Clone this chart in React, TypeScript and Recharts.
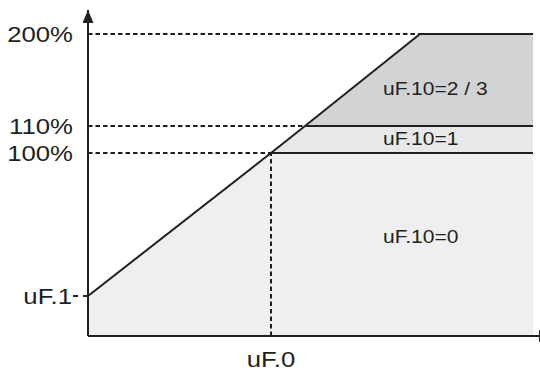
import React from "react";
import { ComposedChart, Area, Line, XAxis, YAxis, ReferenceLine, ReferenceDot } from "recharts";

// schematic diagram units (the original is not drawn to scale)
const yTicks = [40, 183, 210, 302];
const yTickLabels = ["uF.1", "100%", "110%", "200%"];
const xTicks = [183];
const xTickLabels = ["uF.0"];

const xs = [0, 183, 217, 332, 445];
const curve = [40, 183, 210, 302, 302];
const zone0Top = [40, 183, 183, 183, 183];
const zone1Top = [null, 183, 210, 210, 210];
const zone23Top = [null, null, 210, 302, 302];

const regionLabels = ["uF.10=0", "uF.10=1", "uF.10=2 / 3"];
const regionLabelX = [295, 295, 295];
const regionLabelY = [93, 191, 241];

const INK = "#231f20";
const FONT = "'Liberation Sans', Arial, sans-serif";

const data = xs.map((x, i) => ({
  x,
  curve: curve[i],
  zone0: zone0Top[i],
  zone1: zone1Top[i] == null ? null : [183, zone1Top[i]],
  zone23: zone23Top[i] == null ? null : [210, zone23Top[i]],
}));

const YTick = (props: any) => {
  const { x, y, payload } = props;
  const label = yTickLabels[yTicks.indexOf(payload.value)];
  const isStart = label === "uF.1";
  return (
    <g>
      <text
        transform={`translate(${isStart ? x - 1 : x},${y}) scale(1.17,1)`}
        textAnchor="end"
        dy={8}
        fontSize={22}
        fontFamily={FONT}
        fill={INK}
      >
        {label}
      </text>
      {isStart && (
        <line x1={x} x2={x + 15} y1={y} y2={y} stroke={INK} strokeWidth={2} strokeDasharray="5 5" />
      )}
    </g>
  );
};

const XTick = (props: any) => {
  const { x, y, payload } = props;
  const label = xTickLabels[xTicks.indexOf(payload.value)];
  return (
    <text
      transform={`translate(${x},${y}) scale(1.17,1)`}
      textAnchor="middle"
      dy={31}
      fontSize={22}
      fontFamily={FONT}
      fill={INK}
    >
      {label}
    </text>
  );
};

const RegionText = (text: string) => (props: any) => (
  <text
    transform={`translate(${props.cx},${props.cy}) scale(1.17,1)`}
    fontSize={18}
    fontFamily={FONT}
    fill={INK}
  >
    {text}
  </text>
);

export default function App() {
  return (
    <div style={{ position: "absolute", left: 0, top: 0, width: 540, height: 371, background: "#fff" }}>
      <ComposedChart width={540} height={371} data={data} margin={{ top: 10, right: 0, left: 0, bottom: 0 }}>
        <defs>
          <marker id="arrowY" markerUnits="userSpaceOnUse" markerWidth={13} markerHeight={11} refX={13} refY={5.5} orient="auto-start-reverse">
            <path d="M0,0 L13,5.5 L0,11 z" fill={INK} />
          </marker>
          <marker id="arrowX" markerUnits="userSpaceOnUse" markerWidth={13} markerHeight={12} refX={1} refY={6} orient="auto">
            <path d="M0,0 L13,6 L0,12 z" fill={INK} />
          </marker>
        </defs>
        <XAxis
          dataKey="x"
          type="number"
          domain={[0, 452]}
          ticks={xTicks}
          height={35}
          tickSize={0}
          tickMargin={0}
          tickLine={false}
          axisLine={{ stroke: INK, strokeWidth: 2, markerEnd: "url(#arrowX)" }}
          tick={<XTick />}
          allowDataOverflow
        />
        <YAxis
          type="number"
          domain={[0, 326]}
          ticks={yTicks}
          width={88}
          tickSize={0}
          tickMargin={15}
          tickLine={false}
          axisLine={{ stroke: INK, strokeWidth: 2, markerStart: "url(#arrowY)" }}
          tick={<YTick />}
          allowDataOverflow
        />
        <Area dataKey="zone0" type="linear" fill="#efefef" fillOpacity={1} stroke="none" isAnimationActive={false} />
        <Area dataKey="zone1" type="linear" fill="#e8e8e9" fillOpacity={1} stroke="none" isAnimationActive={false} />
        <Area dataKey="zone23" type="linear" fill="#d2d3d5" fillOpacity={1} stroke="none" isAnimationActive={false} />

        <ReferenceLine segment={[{ x: 0, y: 302 }, { x: 332, y: 302 }]} stroke={INK} strokeWidth={2} strokeDasharray="4.5 3" />
        <ReferenceLine segment={[{ x: 0, y: 210 }, { x: 217, y: 210 }]} stroke={INK} strokeWidth={2} strokeDasharray="4.5 3" />
        <ReferenceLine segment={[{ x: 0, y: 183 }, { x: 183, y: 183 }]} stroke={INK} strokeWidth={2} strokeDasharray="4.5 3" />
        <ReferenceLine segment={[{ x: 183, y: 0 }, { x: 183, y: 183 }]} stroke={INK} strokeWidth={2} strokeDasharray="4.5 3" />
        <ReferenceLine segment={[{ x: 183, y: 183 }, { x: 445, y: 183 }]} stroke={INK} strokeWidth={2} />
        <ReferenceLine segment={[{ x: 217, y: 210 }, { x: 445, y: 210 }]} stroke={INK} strokeWidth={2} />

        <Line dataKey="curve" type="linear" stroke={INK} strokeWidth={2} dot={false} isAnimationActive={false} />

        {regionLabels.map((t, i) => (
          <ReferenceDot key={t} x={regionLabelX[i]} y={regionLabelY[i]} r={0} shape={RegionText(t)} />
        ))}
      </ComposedChart>
    </div>
  );
}
